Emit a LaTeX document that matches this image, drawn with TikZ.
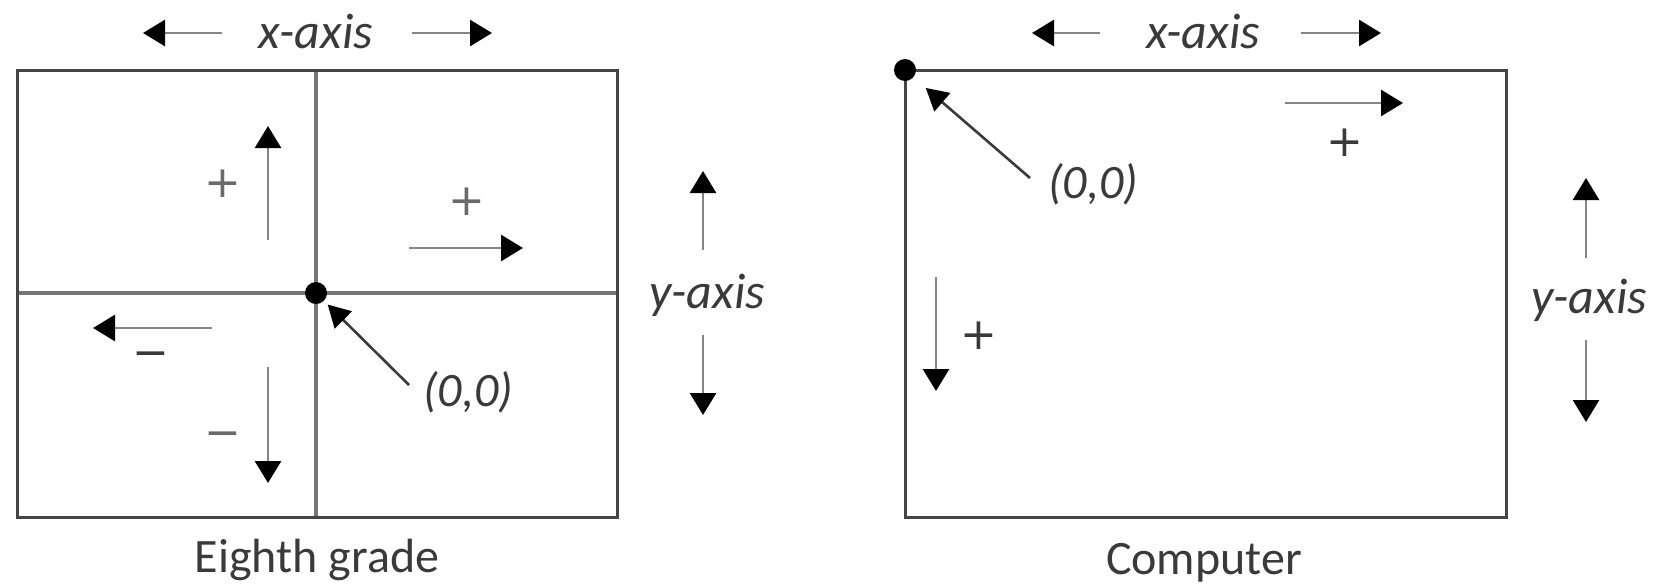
\documentclass[tikz,border=0pt]{standalone}
\usepackage{fontspec}
\setmainfont{Carlito}
\newfontfamily\signfont{DejaVu Sans}
\usetikzlibrary{arrows.meta}

\definecolor{boxline}{HTML}{454545}
\definecolor{midline}{HTML}{767676}
\definecolor{shaft}{HTML}{858585}
\definecolor{ink}{HTML}{3A3A3A}
\definecolor{signink}{HTML}{6A6A6A}

\tikzset{
  frame/.style={draw=boxline, line width=1.5pt},
  axisline/.style={draw=midline, line width=1.6pt},
  dirarrow/.style={draw=shaft, line width=1.4pt,
    -{Triangle[length=11pt,width=13pt,color=black]}},
  ptr/.style={draw=ink, line width=1.3pt,
    -{Triangle[length=11pt,width=12pt,color=black]}},
  origin/.style={circle, fill=black, inner sep=0pt, minimum size=11pt},
  lbl/.style={text=ink, inner sep=0pt, font=\fontsize{24}{28}\selectfont},
  axislbl/.style={text=ink, inner sep=0pt, font=\fontsize{25}{28}\selectfont\itshape},
  sign/.style={text=signink, inner sep=0pt, font=\signfont\fontsize{22}{26}\selectfont},
}

\begin{document}
\begin{tikzpicture}[x=0.5pt,y=-0.5pt]
\useasboundingbox (0,0) rectangle (1659,585);

% ---------- Eighth grade: four quadrants ----------
\draw[axisline] (316,70) -- (316,517);
\draw[axisline] (17,293) -- (617,293);
\draw[frame] (17,70) rectangle (617,517);

% axis captions
\node[axislbl] (xl1) at (316,31) {x-axis};
\coordinate (xl1a) at (222,33); \coordinate (xl1b) at (143,33);
\coordinate (xl1c) at (412,33); \coordinate (xl1d) at (492,33);
\draw[dirarrow] (xl1a) -- (xl1b);
\draw[dirarrow] (xl1c) -- (xl1d);

\node[axislbl] (yl1) at (707,295) {y-axis};
\coordinate (yl1a) at (703,250); \coordinate (yl1b) at (703,171);
\coordinate (yl1c) at (703,335); \coordinate (yl1d) at (703,415);
\draw[dirarrow] (yl1a) -- (yl1b);
\draw[dirarrow] (yl1c) -- (yl1d);

% directions inside the quadrants
\coordinate (up0) at (268,240); \coordinate (up1) at (268,126);
\coordinate (rt0) at (409,248); \coordinate (rt1) at (523,248);
\coordinate (lf0) at (212,328); \coordinate (lf1) at (93,328);
\coordinate (dn0) at (268,367); \coordinate (dn1) at (268,483);
\draw[dirarrow] (up0) -- (up1);
\draw[dirarrow] (rt0) -- (rt1);
\draw[dirarrow] (lf0) -- (lf1);
\draw[dirarrow] (dn0) -- (dn1);

\node[sign] (s1) at (223,184) {+};
\node[sign] (s2) at (467,202) {+};
\node[sign, text=ink] (s3) at (151,360) {−};
\node[sign] (s4) at (223,440) {−};

% origin
\node[origin] (o1) at (316,293) {};
\node[lbl, font=\fontsize{24}{28}\selectfont\itshape] (ol1) at (468,392) {(0,0)};
\coordinate (ot1) at (409,385);
\draw[ptr, shorten >=2.5pt] (ot1) -- (o1);

\node[lbl] (cap1) at (317,560) {Eighth grade};

% ---------- Computer: origin top left ----------
\draw[frame] (905,70) rectangle (1506,517);

\node[axislbl] (xl2) at (1203,31) {x-axis};
\coordinate (xl2a) at (1100,33); \coordinate (xl2b) at (1032,33);
\coordinate (xl2c) at (1301,33); \coordinate (xl2d) at (1381,33);
\draw[dirarrow] (xl2a) -- (xl2b);
\draw[dirarrow] (xl2c) -- (xl2d);

\node[axislbl] (yl2) at (1589,300) {y-axis};
\coordinate (yl2a) at (1586,258); \coordinate (yl2b) at (1586,178);
\coordinate (yl2c) at (1586,340); \coordinate (yl2d) at (1586,422);
\draw[dirarrow] (yl2a) -- (yl2b);
\draw[dirarrow] (yl2c) -- (yl2d);

\coordinate (cr0) at (1285,103); \coordinate (cr1) at (1403,103);
\coordinate (cd0) at (936,277); \coordinate (cd1) at (936,391);
\draw[dirarrow] (cr0) -- (cr1);
\draw[dirarrow] (cd0) -- (cd1);
\node[sign, text=ink] (s5) at (1345,143) {+};
\node[sign, text=ink] (s6) at (979,336) {+};

\node[origin] (o2) at (905,70) {};
\node[lbl, font=\fontsize{24}{28}\selectfont\itshape] (ol2) at (1093,184) {(0,0)};
\coordinate (ot2) at (1030,178);
\draw[ptr, shorten >=8pt] (ot2) -- (o2);

\node[lbl] (cap2) at (1204,563) {Computer};
\end{tikzpicture}
\end{document}
